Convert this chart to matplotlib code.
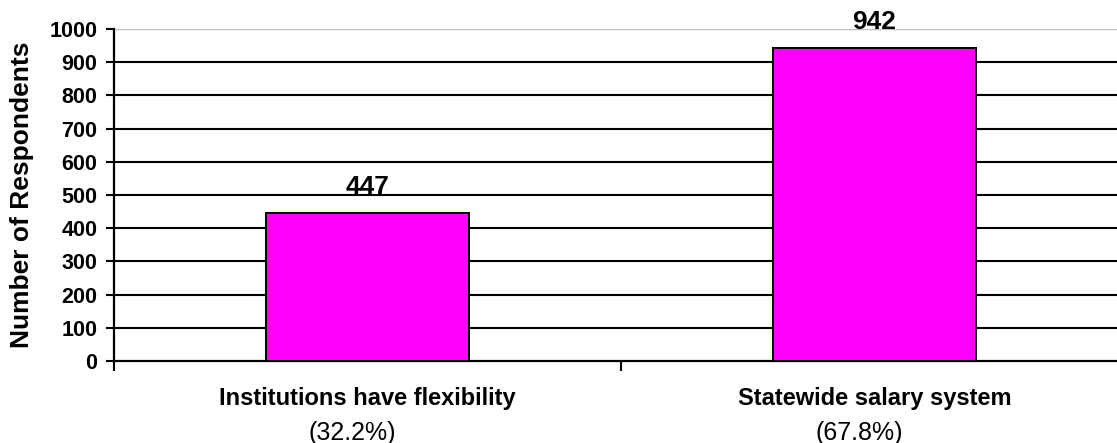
import matplotlib
matplotlib.use("Agg")
import matplotlib.pyplot as plt

plt.rcParams['font.family'] = ['Liberation Sans', 'DejaVu Sans']

categories = ["Institutions have flexibility", "Statewide salary system"]
shares = ["(32.2%)", "(67.8%)"]
counts = [447, 942]
y_ticks = list(range(0, 1001, 100))

fig = plt.figure(figsize=(11.17, 4.43), dpi=100)
# plot area runs a little past the right edge of the figure
ax = fig.add_axes([114 / 1117, 82 / 443, 1014 / 1117, 332 / 443])

x = list(range(len(categories)))
ax.bar(x, counts, width=0.4, color='#FF00FF', edgecolor='black', linewidth=1.4, zorder=3)

ax.set_xlim(-0.5, 1.5)
ax.set_ylim(0, 1000)
ax.set_yticks(y_ticks)
ax.set_yticklabels([str(v) for v in y_ticks], fontsize=15.5, fontweight='bold')
ax.tick_params(axis='y', direction='out', length=6, width=1.5, pad=6)

# category boundaries get the tick marks, labels are placed by hand
ax.set_xticks([-0.5, 0.5, 1.5])
ax.set_xticklabels([])
ax.tick_params(axis='x', direction='out', length=7, width=1.5)

for v in y_ticks[1:-1]:
    ax.axhline(v, color='black', linewidth=1.5, zorder=1)
ax.axhline(1000, color='#c0c0c0', linewidth=1.0, zorder=1)

for s in ['top', 'right']:
    ax.spines[s].set_visible(False)
ax.spines['left'].set_linewidth(1.6)
ax.spines['bottom'].set_linewidth(1.6)

for xi, c in zip(x, counts):
    ax.annotate(str(c), (xi, c), xytext=(0, 10), textcoords='offset points',
                ha='center', va='bottom', fontsize=19, fontweight='bold')

for xi, cat, sh in zip(x, categories, shares):
    ax.annotate(cat, (xi, 0), xycoords=('data', 'axes fraction'), xytext=(0, -27),
                textcoords='offset points', ha='center', va='center',
                fontsize=17, fontweight='bold')
    ax.annotate(sh, (xi, 0), xycoords=('data', 'axes fraction'), xytext=(-11, -52),
                textcoords='offset points', ha='center', va='center', fontsize=18)

ax.set_ylabel("Number of Respondents", fontsize=19, fontweight='bold', labelpad=11)

fig.savefig("out.png", dpi=100)
